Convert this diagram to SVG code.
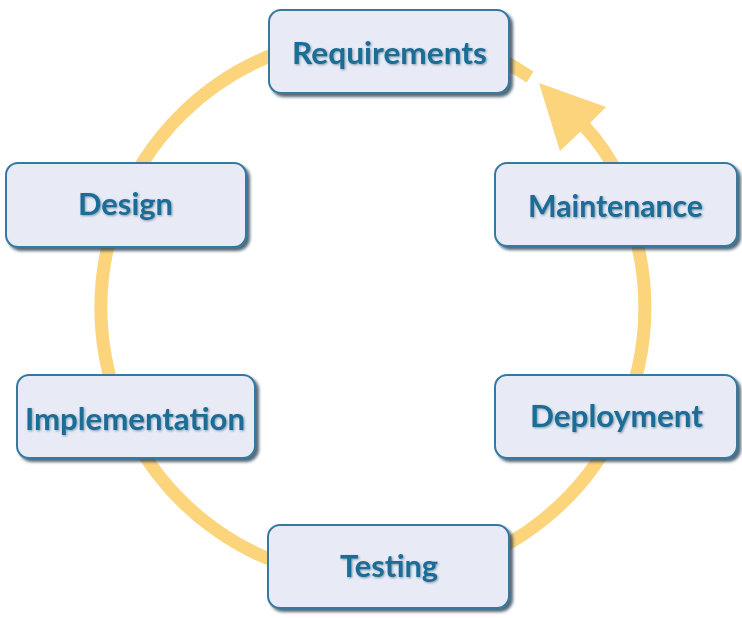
<svg xmlns="http://www.w3.org/2000/svg" width="742" height="618" viewBox="0 0 742 618">
  <defs>
    <filter id="shadow" x="-10%" y="-10%" width="125%" height="135%">
      <feDropShadow dx="3" dy="3" stdDeviation="1.8" flood-color="#1c3448" flood-opacity="0.75"/>
    </filter>
    <filter id="tshadow" x="-5%" y="-20%" width="110%" height="140%">
      <feDropShadow dx="1" dy="1" stdDeviation="0.9" flood-color="#0d3a55" flood-opacity="0.45"/>
    </filter>
  </defs>
  <style>
    .box { fill: #E8EAF6; stroke: #3478A0; stroke-width: 2; filter: url(#shadow); }
    .lbl { font-family: Lato, "Open Sans", "Liberation Sans", sans-serif; font-weight: 700; font-size: 31px; fill: #1D6D96; text-anchor: middle; filter: url(#tshadow); }
    .ring { fill: none; stroke: #FCD47C; stroke-width: 13; }
    .head { fill: #FCD47C; }
  </style>
  <rect width="742" height="618" fill="#FFFFFF"/>
  <g id="connectors">
    <path class="ring" d="M400,37 A272,272 0 1 0 620,194"/>
    <path class="ring" d="M495,55 L530,77"/>
    <path class="ring" d="M585,127 Q604,147 620,178"/>
    <polygon class="head" points="539,83 606,107 592,121 578,134 560,151"/>
  </g>
  <g id="requirements">
    <rect class="box" x="269" y="10" width="240" height="83" rx="12"/>
    <text class="lbl" x="389.5" y="64" textLength="195" lengthAdjust="spacingAndGlyphs">Requirements</text>
  </g>
  <g id="design">
    <rect class="box" x="6" y="163" width="240" height="84" rx="12"/>
    <text class="lbl" x="125.5" y="215" textLength="95" lengthAdjust="spacingAndGlyphs">Design</text>
  </g>
  <g id="maintenance">
    <rect class="box" x="495" y="163" width="242" height="83" rx="12"/>
    <text class="lbl" x="615.5" y="217" textLength="175" lengthAdjust="spacingAndGlyphs">Maintenance</text>
  </g>
  <g id="implementation">
    <rect class="box" x="17" y="375" width="238" height="83" rx="12"/>
    <text class="lbl" x="135" y="430" textLength="220" lengthAdjust="spacingAndGlyphs">Implementation</text>
  </g>
  <g id="deployment">
    <rect class="box" x="495" y="375" width="242" height="83" rx="12"/>
    <text class="lbl" x="616.5" y="427" textLength="173" lengthAdjust="spacingAndGlyphs">Deployment</text>
  </g>
  <g id="testing">
    <rect class="box" x="268" y="525" width="241" height="83" rx="12"/>
    <text class="lbl" x="389" y="577" textLength="98" lengthAdjust="spacingAndGlyphs">Testing</text>
  </g>
</svg>
